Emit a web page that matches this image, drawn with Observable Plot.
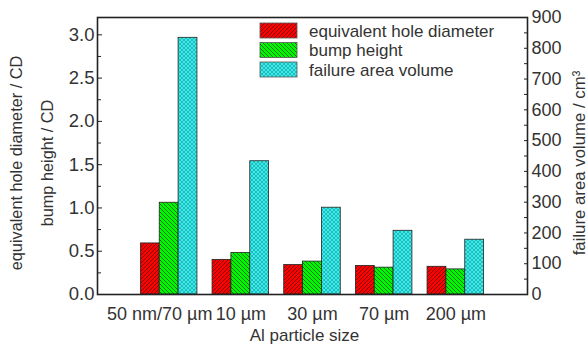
<!DOCTYPE html>
<html>
<head>
<meta charset="utf-8">
<script src="https://cdn.jsdelivr.net/npm/d3@7"></script>
<script src="https://cdn.jsdelivr.net/npm/@observablehq/plot@0.6"></script>
<style>
  html, body { margin: 0; padding: 0; background: #fff; }
  svg { font-family: "Liberation Sans", Arial, sans-serif; }
</style>
</head>
<body>
<div id="chart"></div>
<script>
// ---- data ----
const categories = ["50 nm/70 \u00b5m", "10 \u00b5m", "30 \u00b5m", "70 \u00b5m", "200 \u00b5m"];
const holeDiameter = [0.59, 0.40, 0.34, 0.33, 0.32];   // left axis (/CD)
const bumpHeight   = [1.06, 0.48, 0.38, 0.31, 0.29];   // left axis (/CD)
const failureVolume = [834, 433, 282, 207, 178];       // right axis (cm^3)
const seriesNames = ["equivalent hole diameter", "bump height", "failure area volume"];
const leftTicks = [0, 0.5, 1.0, 1.5, 2.0, 2.5, 3.0];
const rightTicks = [0, 100, 200, 300, 400, 500, 600, 700, 800, 900];

const leftMax = 3.2, rightMax = 900;
const k = rightMax / leftMax; // right units per left unit
const barW = 0.263;
const fills = ["url(#pRed)", "url(#pGreen)", "url(#pCyan)"];

const rows = [];
categories.forEach((c, i) => {
  rows.push({i, s: 0, v: holeDiameter[i]});
  rows.push({i, s: 1, v: bumpHeight[i]});
  rows.push({i, s: 2, v: failureVolume[i] / k});
});

const ink = "#333";
const chart = Plot.plot({
  width: 588,
  height: 346,
  marginLeft: 97,
  marginRight: 61,
  marginTop: 17,
  marginBottom: 52,
  style: {fontFamily: "'Liberation Sans', Arial, sans-serif", color: ink, background: "#fff"},
  x: {domain: [0, 6], axis: null},
  y: {domain: [0, leftMax], axis: null},
  marks: [
    Plot.rectY(rows, {
      x1: d => d.i + 1 + (d.s - 1.5) * barW,
      x2: d => d.i + 1 + (d.s - 0.5) * barW,
      y1: 0,
      y2: "v",
      fill: d => fills[d.s],
      stroke: "#222",
      strokeWidth: 0.8
    }),
    // left axis
    Plot.axisY({anchor: "left", ticks: leftTicks, tickFormat: d3.format(".1f"), tickSize: -5, tickPadding: 8, fontSize: 18.5, stroke: "#222", label: null}),
    Plot.axisY({anchor: "left", ticks: leftTicks.map(t => t + 0.25).filter(t => t < leftMax), tickFormat: null, text: null, tickSize: -4, stroke: "#222", label: null}),
    // right axis
    Plot.axisY({anchor: "right", ticks: rightTicks.map(t => t / k), tickFormat: t => Math.round(t * k), tickSize: -4, tickPadding: 8, fontSize: 18, stroke: "#222", label: null}),
    Plot.axisY({anchor: "right", ticks: rightTicks.map(t => (t + 50) / k).filter(t => t < leftMax), tickFormat: null, text: null, tickSize: -4, stroke: "#222", label: null}),
    // x axis
    Plot.axisX({ticks: [1], tickFormat: t => categories[t - 1], tickSize: 0, tickPadding: 13, dx: -9.5, fontSize: 18, label: null}),
    Plot.axisX({ticks: [2, 3, 4, 5], tickFormat: t => categories[t - 1], tickSize: 0, tickPadding: 13, fontSize: 18, label: null}),
    Plot.frame({stroke: "#222", strokeWidth: 1.6}),
    // titles
    Plot.text(["equivalent hole diameter / CD"], {frameAnchor: "left", textAnchor: "middle", dx: -81, dy: 7, rotate: -90, fontSize: 16.3, fill: ink}),
    Plot.text(["bump height / CD"], {frameAnchor: "left", textAnchor: "middle", dx: -50, dy: 7, rotate: -90, fontSize: 16.3, fill: ink}),
    Plot.text(["failure area volume / cm\u00b3"], {frameAnchor: "right", textAnchor: "middle", dx: 52, dy: 7, rotate: -90, fontSize: 16.8, fill: ink}),
    Plot.text(["Al particle size"], {frameAnchor: "bottom", textAnchor: "middle", dx: -8, dy: 46, fontSize: 17, fill: ink})
  ]
});

// patterns
const svg = d3.select(chart);
const defs = svg.insert("defs", ":first-child");
function hatch(id, bg, paths, sw, col) {
  const p = defs.append("pattern").attr("id", id).attr("patternUnits", "userSpaceOnUse")
    .attr("width", 4).attr("height", 4);
  p.append("rect").attr("width", 4).attr("height", 4).attr("fill", bg);
  paths.forEach(d => p.append("path").attr("d", d).attr("stroke", col).attr("stroke-width", sw).attr("fill", "none"));
}
hatch("pRed", "#ff0000", ["M0,4 L4,0 M-1,1 L1,-1 M3,5 L5,3"], 0.6, "#1a1a1a");
hatch("pGreen", "#00f800", ["M0,0 L4,4 M-1,3 L1,5 M3,-1 L5,1"], 0.6, "#1a1a1a");
hatch("pCyan", "#30f0f0", ["M0,4 L4,0 M-1,1 L1,-1 M3,5 L5,3", "M0,0 L4,4 M-1,3 L1,5 M3,-1 L5,1"], 0.35, "#2a4a4a");

// legend
const lg = svg.append("g").attr("font-size", 17).attr("fill", ink).attr("text-anchor", "start");
seriesNames.forEach((name, j) => {
  const y = 23 + j * 19.5;
  lg.append("rect").attr("x", 260).attr("y", y).attr("width", 37).attr("height", 15)
    .attr("fill", fills[j]).attr("stroke", "#555").attr("stroke-width", 0.8);
  lg.append("text").attr("x", 309).attr("y", y + 7.5).attr("dy", "0.36em").text(name);
});

document.getElementById("chart").appendChild(chart);
</script>
</body>
</html>
